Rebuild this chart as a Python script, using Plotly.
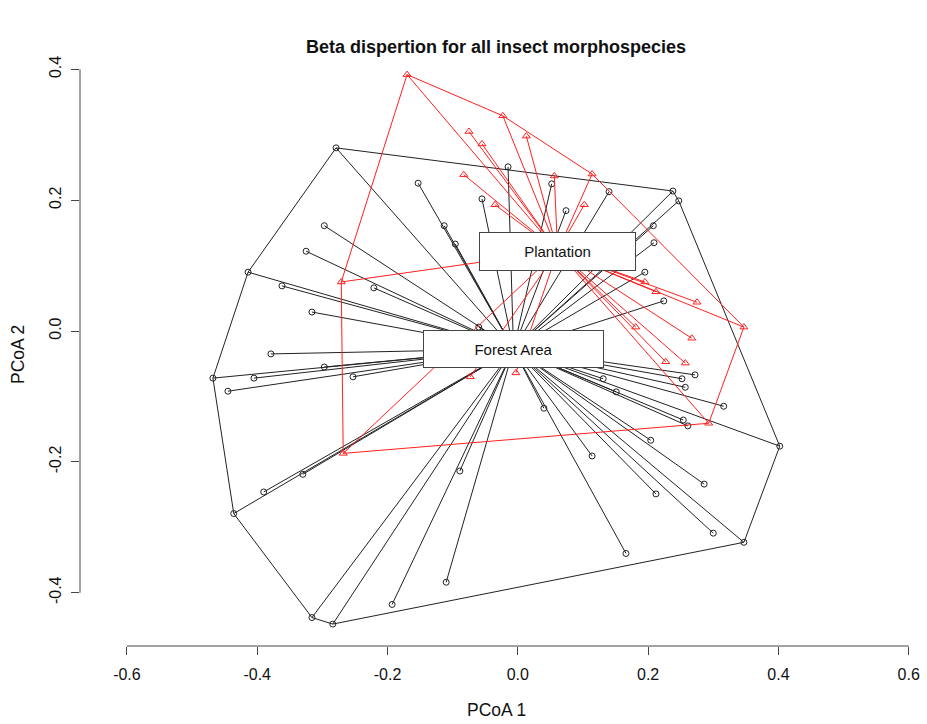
import plotly.graph_objects as go

# ---- data ----
forest_x = [-0.279, -0.153, -0.113, -0.096, -0.297, -0.325, -0.414, -0.015, 0.052, -0.055,
            0.074, 0.140, 0.238, 0.247, 0.208, 0.209, 0.195, -0.362, -0.221, -0.316,
            -0.379, -0.297, -0.468, -0.405, -0.253, -0.445, -0.060, 0.224, 0.131, 0.272,
            0.252, 0.257, 0.151, 0.316, 0.040, 0.254, 0.261, 0.204, 0.402, 0.114,
            -0.330, -0.390, -0.436, -0.089, -0.110, -0.193, -0.316, -0.284, 0.286, 0.212,
            0.300, 0.347, 0.166]
forest_y = [0.280, 0.226, 0.161, 0.133, 0.161, 0.122, 0.090, 0.251, 0.225, 0.202,
            0.184, 0.213, 0.214, 0.199, 0.161, 0.135, 0.090, 0.069, 0.066, 0.029,
            -0.035, -0.055, -0.072, -0.072, -0.070, -0.092, 0.006, 0.046, -0.073, -0.067,
            -0.073, -0.086, -0.093, -0.115, -0.118, -0.136, -0.145, -0.167, -0.176, -0.191,
            -0.219, -0.246, -0.279, -0.214, -0.384, -0.418, -0.438, -0.448, -0.234, -0.249,
            -0.309, -0.323, -0.340]
forest_hull = [0, 12, 13, 38, 51, 47, 46, 42, 22, 6, 0]

plant_x = [-0.170, -0.023, -0.075, -0.055, 0.013, -0.083, 0.056, 0.114, -0.035, 0.102,
           -0.271, -0.268, -0.073, -0.003, 0.195, 0.212, 0.275, 0.347, 0.181, 0.267,
           0.227, 0.257, 0.293]
plant_y = [0.392, 0.329, 0.305, 0.286, 0.298, 0.239, 0.237, 0.240, 0.193, 0.193,
           0.075, -0.187, -0.070, -0.064, 0.075, 0.060, 0.044, 0.006, 0.006, -0.011,
           -0.047, -0.049, -0.141]
plant_hull = [0, 1, 7, 17, 22, 11, 10, 0]

group_names = ["Forest Area", "Plantation"]
centroid_x = [-0.0066, 0.061]
centroid_y = [-0.0275, 0.122]

x_ticks = [-0.6, -0.4, -0.2, 0.0, 0.2, 0.4, 0.6]
x_tick_text = ["-0.6", "-0.4", "-0.2", "0.0", "0.2", "0.4", "0.6"]
y_ticks = [-0.4, -0.2, 0.0, 0.2, 0.4]
y_tick_text = ["-0.4", "-0.2", "0.0", "0.2", "0.4"]

BLACK = "#222222"
RED = "#ff2020"
FONT = "Liberation Sans, Arial, Helvetica, sans-serif"

fig = go.Figure()


def add_group(xs, ys, hull, cx, cy, color, symbol, msize):
    sx, sy = [], []
    for x, y in zip(xs, ys):
        sx += [cx, x, None]
        sy += [cy, y, None]
    fig.add_trace(go.Scatter(x=sx, y=sy, mode="lines",
                             line=dict(color=color, width=1), hoverinfo="skip"))
    fig.add_trace(go.Scatter(x=[xs[i] for i in hull], y=[ys[i] for i in hull], mode="lines",
                             line=dict(color=color, width=1), hoverinfo="skip"))
    fig.add_trace(go.Scatter(x=xs, y=ys, mode="markers",
                             marker=dict(symbol=symbol, size=msize, color=color,
                                         line=dict(width=1, color=color))))


add_group(forest_x, forest_y, forest_hull, centroid_x[0], centroid_y[0], BLACK, "circle-open", 6)
add_group(plant_x, plant_y, plant_hull, centroid_x[1], centroid_y[1], RED, "triangle-up-open", 7)

# centroid labels (ordilabel-style boxes)
box_w = [179, 155]
box_h = [36, 37]
for name, cx, cy, bw, bh in zip(group_names, centroid_x, centroid_y, box_w, box_h):
    fig.add_annotation(x=cx, y=cy, xref="x", yref="y", text=name, showarrow=False,
                       font=dict(family=FONT, size=15, color="#111"),
                       bgcolor="white", bordercolor="#444", borderwidth=1, borderpad=0,
                       width=bw, height=bh, align="center", valign="middle")

# axis lines spanning the tick range, R style
fig.add_shape(type="line", xref="x", yref="paper", x0=x_ticks[0], x1=x_ticks[-1], y0=0, y1=0,
              line=dict(color="#444", width=1))
fig.add_shape(type="line", xref="paper", yref="y", x0=0, x1=0, y0=y_ticks[0], y1=y_ticks[-1],
              line=dict(color="#444", width=1))

fig.add_annotation(text="<b>Beta dispertion for all insect morphospecies</b>", xref="paper", yref="paper",
                   x=0.5, y=(646 - 47) / 592, showarrow=False, yanchor="middle",
                   font=dict(family=FONT, size=18, color="#111"))
fig.add_annotation(text="PCoA 1", xref="paper", yref="paper", x=0.5, y=(646 - 710) / 592,
                   showarrow=False, yanchor="middle", font=dict(family=FONT, size=17.5, color="#111"))
fig.add_annotation(text="PCoA 2", xref="paper", yref="paper", x=(18 - 80) / 832, y=(646 - 355) / 592,
                   showarrow=False, textangle=-90, xanchor="center", yanchor="middle",
                   font=dict(family=FONT, size=17.5, color="#111"))

fig.update_layout(
    width=927, height=724,
    margin=dict(l=80, r=15, t=54, b=78, autoexpand=False),
    paper_bgcolor="white", plot_bgcolor="white",
    showlegend=False,
    font=dict(family=FONT, color="#111"),
    xaxis=dict(range=[-0.672, 0.605], tickvals=x_ticks, ticktext=x_tick_text,
               showgrid=False, zeroline=False, showline=False, automargin=False,
               ticks="outside", ticklen=8, tickcolor="#444", tickwidth=1,
               tickfont=dict(family=FONT, size=16, color="#111"), ticklabelstandoff=6),
    yaxis=dict(range=[-0.4815, 0.4235], tickvals=y_ticks, ticktext=y_tick_text,
               showgrid=False, zeroline=False, showline=False, automargin=False,
               ticks="outside", ticklen=8, tickcolor="#444", tickwidth=1, tickangle=-90,
               tickfont=dict(family=FONT, size=16, color="#111"), ticklabelstandoff=4),
)

fig.write_html("out.html")
